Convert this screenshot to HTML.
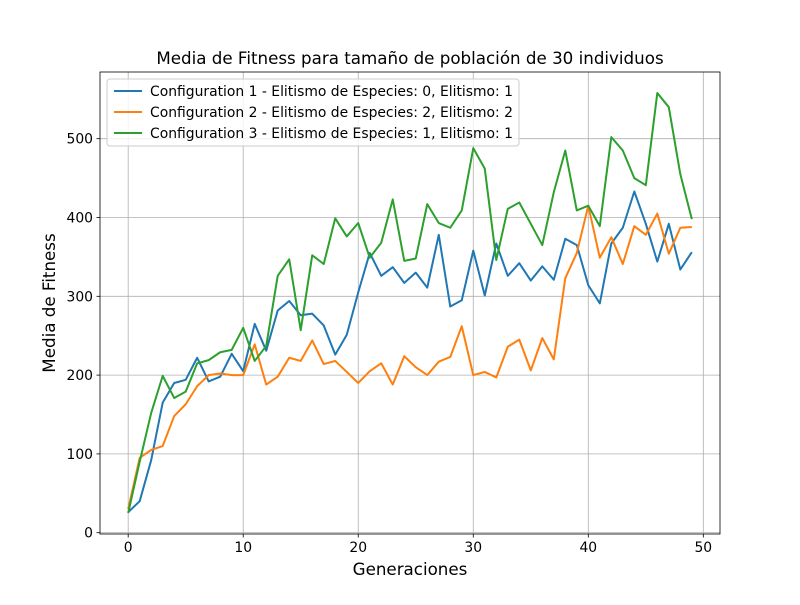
<!DOCTYPE html>
<html><head><meta charset="utf-8"><style>
body{margin:0;background:#fff;}
svg{font-family:"DejaVu Sans","Liberation Sans",sans-serif;}
</style></head><body>
<svg id="chart" width="800" height="600"></svg>
<script>
const generations = Array.from({length:50},(_,i)=>i);
const config1 = [26,40,92,165,190,194,222,192,198,227,205,265,231,282,294,276,278,263,226,251,305,355,326,337,317,330,311,378,287,295,358,301,367,326,342,320,338,321,373,365,314,291,367,387,433,392,344,392,334,356];
const config2 = [30,95,105,110,148,163,186,200,202,200,200,239,188,198,222,218,244,214,218,204,190,205,215,188,224,210,200,217,223,262,200,204,197,236,245,206,247,220,323,355,415,349,375,341,389,378,405,354,387,388];
const config3 = [25,90,152,199,171,179,215,219,229,232,260,218,237,326,347,257,352,341,399,376,393,349,368,423,345,348,417,393,387,409,488,462,346,411,419,392,365,432,485,409,415,389,502,485,450,441,558,540,455,398];
const xTicks = [0,10,20,30,40,50];
const yTicks = [0,100,200,300,400,500];
const seriesNames = ["Configuration 1 - Elitismo de Especies: 0, Elitismo: 1","Configuration 2 - Elitismo de Especies: 2, Elitismo: 2","Configuration 3 - Elitismo de Especies: 1, Elitismo: 1"];
const colors = ["#1f77b4","#ff7f0e","#2ca02c"];

const L=100,R=720,T=72,B=534;
const all=[...config1,...config2,...config3];
const ymin0=Math.min(...all), ymax0=Math.max(...all), yr=ymax0-ymin0;
const ymin=ymin0-0.05*yr, ymax=ymax0+0.05*yr;
const xmin=-2.45, xmax=51.45;
const sx=v=>L+(v-xmin)/(xmax-xmin)*(R-L);
const sy=v=>B-(v-ymin)/(ymax-ymin)*(B-T);
const svg=document.getElementById('chart');
const NS="http://www.w3.org/2000/svg";
function mk(tag,attrs,text){const e=document.createElementNS(NS,tag);for(const k in attrs)e.setAttribute(k,attrs[k]);if(text!==undefined)e.textContent=text;svg.appendChild(e);return e;}

xTicks.forEach(t=>{
  const x=sx(t);
  const g=mk('line',{x1:x,x2:x,y1:T,y2:B,stroke:'#b0b0b0','stroke-width':0.8});
  
  
  mk('line',{x1:x,x2:x,y1:B,y2:B+3.5,stroke:'#000','stroke-width':0.8});
  const lb=mk('text',{x:x,y:B+18,'text-anchor':'middle','font-size':13.9},t);
  
  
});
yTicks.forEach(t=>{
  const y=sy(t);
  const g=mk('line',{x1:L,x2:R,y1:y,y2:y,stroke:'#b0b0b0','stroke-width':0.8});
  
  
  mk('line',{x1:L-3.5,x2:L,y1:y,y2:y,stroke:'#000','stroke-width':0.8});
  const lb=mk('text',{x:L-7,y:y+5,'text-anchor':'end','font-size':13.9},t);
  
  
});
[config1,config2,config3].forEach((s,i)=>{
  const p=mk('polyline',{points:s.map((v,j)=>sx(generations[j])+','+sy(v)).join(' '),fill:'none',stroke:colors[i],'stroke-width':2,'stroke-linejoin':'round'});
  
  
});
const fr=mk('rect',{x:L,y:T,width:R-L,height:B-T,fill:'none',stroke:'#000','stroke-width':0.8});



const lg=mk('rect',{x:107,y:79,width:412,height:67,rx:3,fill:'#fff','fill-opacity':0.8,stroke:'#ccc','stroke-width':1});


seriesNames.forEach((n,i)=>{
  const y=91+i*21;
  mk('line',{x1:114,x2:142,y1:y,y2:y,stroke:colors[i],'stroke-width':2});
  const t=mk('text',{x:150,y:y+5,'font-size':13.9},n);
  
  
});
const ti=mk('text',{x:410,y:64,'text-anchor':'middle','font-size':16.7},'Media de Fitness para tamaño de población de 30 individuos');


const xl=mk('text',{x:410,y:575,'text-anchor':'middle','font-size':16.7},'Generaciones');


const yl=mk('text',{x:0,y:0,'text-anchor':'middle','font-size':16.7,transform:'translate(55,303) rotate(-90)'},'Media de Fitness');


</script>
</body></html>
